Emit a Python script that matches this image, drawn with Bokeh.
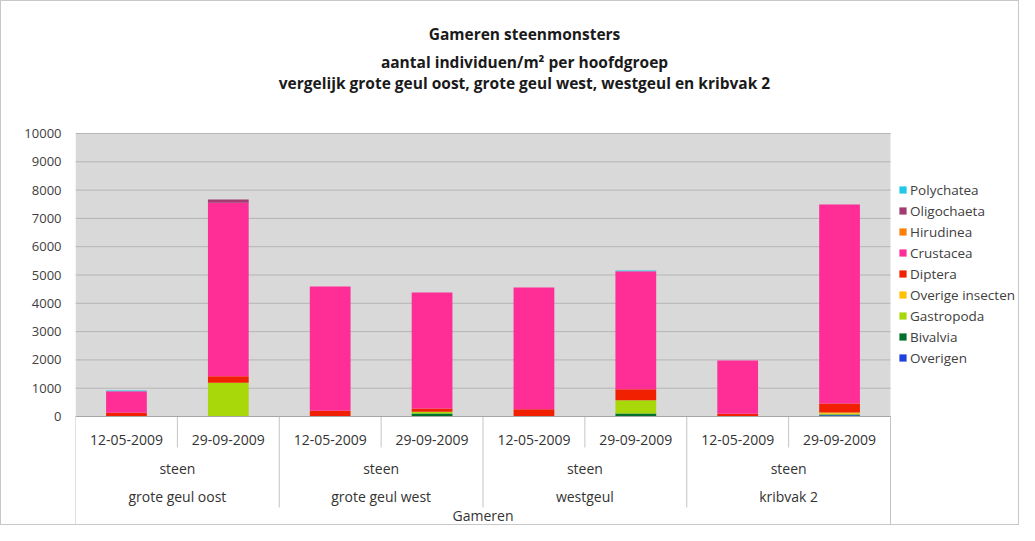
from bokeh.plotting import figure
from bokeh.models import Range1d, FixedTicker, BoxAnnotation, Legend, LegendItem, ColumnDataSource
from bokeh.embed import file_html
from bokeh.resources import INLINE
from bokeh.core.properties import value

# ---------------- data ----------------
site = "Gameren"
habitat = "steen"
groups = ["grote geul oost", "grote geul west", "westgeul", "kribvak 2"]
dates = ["12-05-2009", "29-09-2009"]

species = ["Overigen", "Bivalvia", "Gastropoda", "Overige insecten", "Diptera",
           "Crustacea", "Hirudinea", "Oligochaeta", "Polychatea"]
colors = ["#2040e0", "#00702a", "#a8d80a", "#ffc000", "#f02000",
          "#ff2d96", "#ff8000", "#a23b72", "#22c8e8"]

Overigen         = [0,    0,    0,    0,    0,    0,    0,    40]
Bivalvia         = [0,    20,   0,    110,  0,    110,  0,    30]
Gastropoda       = [0,    1170, 0,    60,   20,   460,  0,    30]
Overige_insecten = [0,    0,    0,    0,    0,    0,    0,    40]
Diptera          = [130,  235,  200,  110,  240,  390,  100,  320]
Crustacea        = [760,  6125, 4390, 4100, 4300, 4170, 1880, 7030]
Hirudinea        = [0,    0,    0,    0,    0,    0,    0,    0]
Oligochaeta      = [0,    120,  0,    0,    0,    0,    0,    0]
Polychatea       = [30,   0,    0,    0,    0,    30,   0,    0]

yticks = list(range(0, 10001, 1000))

titles = ["Gameren steenmonsters", "aantal individuen/m² per hoofdgroep",
          "vergelijk grote geul oost, grote geul west, westgeul en kribvak 2"]

# ---------------- build ----------------
n = len(groups) * len(dates)
xs = [i + 0.5 for i in range(n)]
data = dict(x=xs)
series = [Overigen, Bivalvia, Gastropoda, Overige_insecten, Diptera,
          Crustacea, Hirudinea, Oligochaeta, Polychatea]
for name, vals in zip(species, series):
    data[name] = vals
src = ColumnDataSource(data)

W, H = 1019, 525
LEFT, RIGHT_EDGE = 74, 889          # plot-area edges (px)
Y10K, Y0, BOTTOM = 132, 415, 524    # px of 10000, of 0, and of the frame bottom
pxu = (RIGHT_EDGE - LEFT) / n                 # px per category
pyu = (Y0 - Y10K) / 10000.0                   # px per unit
XMAX = (W - LEFT) / pxu
YMAX = 10000 + Y10K / pyu
YMIN = -(BOTTOM - Y0) / pyu

p = figure(width=W, height=H, output_backend="svg", toolbar_location=None,
           x_range=Range1d(0, XMAX), y_range=Range1d(YMIN, YMAX),
           x_axis_location=None, min_border_left=LEFT, min_border_right=0,
           min_border_top=0, min_border_bottom=H - BOTTOM,
           background_fill_color="white", border_fill_color="white")
p.outline_line_color = None
p.styles = {"border": "1px solid #c8c8c8", "box-sizing": "border-box"}

# gray plot area
bg = BoxAnnotation(left=0, right=n, bottom=0, top=10000, fill_color="#d9d9d9",
                   fill_alpha=1, line_color=None, level="image")
p.add_layout(bg)

p.xgrid.visible = False
p.ygrid.visible = False
p.yaxis.ticker = FixedTicker(ticks=yticks)
p.yaxis.axis_line_color = None
p.yaxis.major_tick_line_color = None
p.yaxis.minor_tick_line_color = None
p.yaxis.major_label_text_font = "Open Sans"
p.yaxis.major_label_text_font_size = "13px"
p.yaxis.major_label_text_color = "#404040"
p.yaxis.major_label_standoff = 8

# horizontal gridlines restricted to the plot area
p.segment(x0=[0] * len(yticks), y0=yticks, x1=[n] * len(yticks), y1=yticks,
          line_color="#b5b5b5", line_width=1)

rs = p.vbar_stack(species, x="x", width=0.4, source=src, color=colors, line_color=None)

# category "table" below the plot
def ypx(py):
    return (Y0 - py) / pyu

row_date = ypx(438)
row_hab = ypx(467)
row_grp = ypx(495)
row_site = ypx(514)
date_div = ypx(446)
grp_div = ypx(506)

seg_x, seg_y1 = [], []
for i in range(n + 1):
    seg_x.append(i)
    if i == 0 or i == n:
        seg_y1.append(YMIN)
    elif i % len(dates) == 0:
        seg_y1.append(grp_div)
    else:
        seg_y1.append(date_div)
p.segment(x0=seg_x, y0=[0] * len(seg_x), x1=seg_x, y1=seg_y1, line_color="#c4c4c4", line_width=1)
p.segment(x0=[0], y0=[0], x1=[n], y1=[0], line_color="#a6a6a6", line_width=1)

date_labels = [d for g in groups for d in dates]
txt = dict(text_align="center", text_baseline="middle", text_font=value("Open Sans"),
           text_font_size="14px", text_color="#333333")
p.text(x=xs, y=[row_date] * n, text=date_labels, **txt)
gx = [g * len(dates) + len(dates) / 2 for g in range(len(groups))]
p.text(x=gx, y=[row_hab] * len(groups), text=[habitat] * len(groups), **txt)
p.text(x=gx, y=[row_grp] * len(groups), text=groups, **txt)
p.text(x=[n / 2], y=[row_site], text=[site], **txt)

# titles
tx = (523 - LEFT) / pxu
p.text(x=[tx] * 3, y=[ypx(32), ypx(60), ypx(81)], text=titles, text_align="center",
       text_baseline="middle", text_font=value("Open Sans"), text_font_style="bold",
       text_font_size="15.5px", text_color="#1a1a1a")

# legend
items = [LegendItem(label=s, renderers=[r]) for s, r in zip(species[::-1], rs[::-1])]
legend = Legend(items=items, location=(897 - LEFT, BOTTOM - 367), orientation="vertical",
                label_text_font="Open Sans", label_text_font_size="13.5px",
                label_text_color="#404040", glyph_width=9, glyph_height=9,
                label_height=21, label_standoff=3, spacing=0, padding=0, margin=0,
                border_line_color=None, background_fill_alpha=0)
p.add_layout(legend)

open("out.html", "w").write(file_html(p, INLINE))
